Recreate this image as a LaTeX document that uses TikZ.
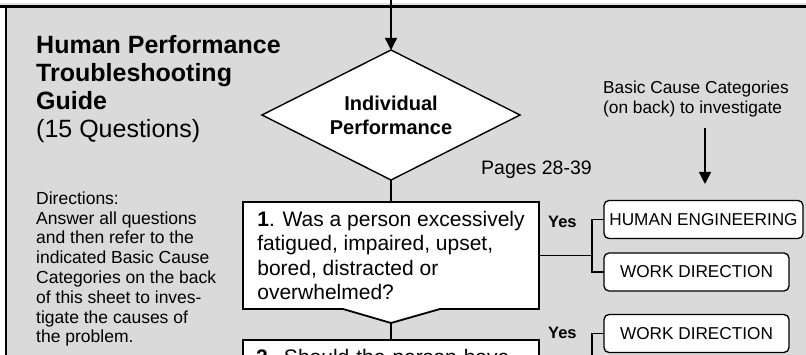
\documentclass[tikz,border=0pt]{standalone}
\usepackage{fontspec}
\setmainfont{Liberation Sans}
\usetikzlibrary{shapes.geometric,arrows.meta,calc,backgrounds}
\definecolor{bggray}{RGB}{218,218,218}
\begin{document}
\begin{tikzpicture}[x=1pt,y=-1pt,
  conn/.style={line width=1.4pt},
  arr/.style={conn,-{Triangle[width=12pt,length=12pt]}},
  catbox/.style={draw,line width=1.3pt,rounded corners=5pt,fill=white,
    font={\fontsize{17.2}{20}\selectfont},minimum height=38pt,inner xsep=4pt,outer sep=0pt},
  qbox/.style={line width=1.8pt,align=left,inner xsep=13pt,minimum width=296pt,
    font={\fontsize{21}{24.6}\selectfont},outer sep=0pt},
  yeslab/.style={font={\bfseries\fontsize{16.5}{18}\selectfont},inner sep=0pt,anchor=base west},
  plain/.style={inner sep=0pt,align=left}
]
\useasboundingbox (0,0) rectangle (806,355);
\clip (0,0) rectangle (806,355);

% title and directions
\node[plain,anchor=north west,font={\fontsize{25}{28.2}\selectfont}] (title) at (36,34.8)
  {\textbf{Human Performance}\\\textbf{Troubleshooting}\\\textbf{Guide}\\(15 Questions)};
\node[plain,anchor=north west,font={\fontsize{17.5}{19.8}\selectfont}] (dir) at (36,191.4)
  {Directions:\\Answer all questions\\and then refer to the\\indicated Basic Cause\\Categories on the back\\of this sheet to inves-\\tigate the causes of\\the problem.};

% diamond
\node[diamond,draw,fill=white,line width=1.4pt,minimum width=258pt,minimum height=130pt,
  inner sep=0pt,outer sep=0pt] (dia) at (391,115) {};
\node[align=center,inner sep=0pt,font={\bfseries\fontsize{20}{24}\selectfont}]
  (diatext) at (391,115) {Individual\\Performance};
\node[anchor=base west,inner sep=0pt,font={\fontsize{19.5}{22}\selectfont}] (pages) at (481,175) {Pages 28-39};

\node[plain,anchor=north west,font={\fontsize{17.3}{20}\selectfont}] (bcc) at (603,80.8)
  {Basic Cause Categories\\(on back) to investigate};

% question boxes
\node[qbox,minimum height=107pt] (q1) at (391,255.5)
  {\textbf{1}. Was a person excessively\\fatigued, impaired, upset,\\bored, distracted or\\overwhelmed?};
\node[qbox,text width=270pt,anchor=north,draw,fill=white,text height=15.3pt,text depth=0pt,inner ysep=9pt]
  (q2) at (391,340) {\textbf{2}. Should the person have};

\node[yeslab] (yes1) at (548,228) {Yes};
\node[yeslab] (yes2) at (548,339) {Yes};

\node[catbox,anchor=west,minimum width=199pt] (he) at (604,219.5) {HUMAN ENGINEERING};
\node[catbox,anchor=west,minimum width=185pt] (wd1) at (604,272) {WORK DIRECTION};
\node[catbox,anchor=west,minimum width=185pt] (wd2) at (604,333.5) {WORK DIRECTION};

% connectors
\coordinate (topin) at (391,0);
\draw[arr] (topin) -- (dia.north);
\draw[conn] (dia.south) -- (q1.north);
\coordinate (q1v) at ($(q1.south)+(0,14)$);
\draw[conn] (q1v) -- (q2.north);
\coordinate (bca) at (705,128);
\coordinate (bcb) at (705,184);
\draw[arr] (bca) -- (bcb);
\coordinate (j1) at (592,255.5);
\draw[conn] (q1.east) -- (j1);
\draw[conn] (he.west) -| (j1);
\draw[conn] (wd1.west) -| (j1);
\coordinate (j2) at (592,400);
\draw[conn] (wd2.west) -| (j2);

% frame
\draw[line width=2.8pt] (0,6.5) -- (806,6.5);
\draw[line width=2pt] (6,6.5) -- (6,355);

\begin{scope}[on background layer]
  \fill[white] (0,0) rectangle (806,355);
  \fill[black!12] (0,3) rectangle (806,5);
  \fill[bggray] (6,7) rectangle (806,355);
  \draw[line width=1.8pt,fill=white,line join=miter]
    (q1.north west) -- (q1.north east) -- (q1.south east) -- ($(q1.south)+(49,0)$)
    -- (q1v) -- ($(q1.south)+(-48,0)$) -- (q1.south west) -- cycle;
\end{scope}
\end{tikzpicture}
\end{document}
